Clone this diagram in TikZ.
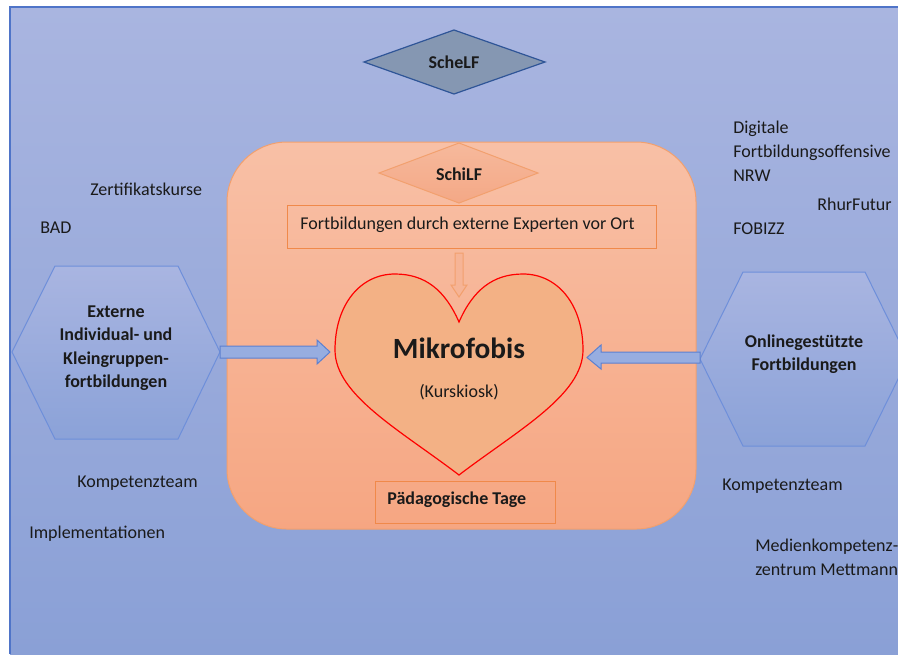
\documentclass[tikz,border=0pt]{standalone}
\usepackage{fontspec}
\setmainfont{Carlito}
\definecolor{bgtop}{HTML}{A9B5E0}
\definecolor{bgbot}{HTML}{8AA0D6}
\definecolor{bgline}{HTML}{4F74C8}
\definecolor{schefill}{HTML}{8597B2}
\definecolor{scheline}{HTML}{2F5597}
\definecolor{boxtop}{HTML}{F8C0A6}
\definecolor{boxbot}{HTML}{F6A682}
\definecolor{boxline}{HTML}{F2A06E}
\definecolor{dmtop}{HTML}{F6B99C}
\definecolor{dmbot}{HTML}{F4A886}
\definecolor{rectline}{HTML}{F0894A}
\definecolor{heartfill}{HTML}{F3B185}
\definecolor{hextop}{HTML}{A9B5E1}
\definecolor{hexbot}{HTML}{8BA2D8}
\definecolor{hexline}{HTML}{6E8FDA}
\definecolor{arrfill}{HTML}{97ADE0}
\definecolor{arrline}{HTML}{5C80D0}
\definecolor{oarrfill}{HTML}{F6B496}
\definecolor{oarrline}{HTML}{F2A06E}
\definecolor{txt}{HTML}{1A1A1A}
\tikzset{
  lbl/.style={inner sep=0pt, anchor=base west, text=txt, font=\fontsize{13.5}{18}\selectfont},
  blbl/.style={inner sep=0pt, text=txt, font=\fontsize{13.5}{17.6}\selectfont\bfseries, align=center},
  hexshape/.style={top color=hextop, bottom color=hexbot, draw=hexline, line width=0.75pt},
  barrow/.style={fill=arrfill, draw=arrline, line width=0.75pt},
}
\begin{document}
\begin{tikzpicture}[x=0.75pt,y=-0.75pt]
\useasboundingbox (0,0) rectangle (898,654);
\clip (0,0) rectangle (898,654);
\fill[white] (0,0) rectangle (898,654);
% background panel
\shade[top color=bgtop, bottom color=bgbot] (10,7) rectangle (898,654);
\draw[bgline, line width=0.9pt] (10,654) -- (10,7) -- (898,7);

% ScheLF diamond
\draw[fill=schefill, draw=scheline, line width=0.9pt] (364,62) -- (454,30) -- (545,62) -- (454,94) -- cycle;
\node[blbl] (schelf) at (454,62) {ScheLF};

% big rounded box
\draw[top color=boxtop, bottom color=boxbot, draw=boxline, line width=0.75pt, rounded corners=45pt] (227,142) rectangle (696,529);

% SchiLF diamond
\draw[top color=dmtop, bottom color=dmbot, draw=oarrline, line width=0.75pt] (379,173) -- (459,143) -- (538,173) -- (459,203) -- cycle;
\node[blbl] (schilf) at (459,174) {SchiLF};

% Experten rectangle
\draw[draw=rectline, line width=0.75pt] (287,205) rectangle (656,248);
\node[lbl] (experten) at (300,229) {Fortbildungen durch externe Experten vor Ort};

% down arrow
\draw[fill=oarrfill, draw=oarrline, line width=0.75pt] (455,253) -- (463,253) -- (463,285) -- (467,285) -- (459,297) -- (451,285) -- (455,285) -- cycle;

% heart
\draw[fill=heartfill, draw=red, line width=0.9pt]
  (459,322) .. controls (445,290) and (425,274) .. (395,274)
  .. controls (360,274) and (335,305) .. (335,350)
  .. controls (335,395) and (400,430) .. (459,475)
  .. controls (518,430) and (583,395) .. (583,350)
  .. controls (583,305) and (558,274) .. (523,274)
  .. controls (493,274) and (473,290) .. (459,322) -- cycle;
\node[inner sep=0pt, text=txt, font=\fontsize{22}{26}\selectfont\bfseries, anchor=base] (mikro) at (459,358) {Mikrofobis};
\node[inner sep=0pt, text=txt, font=\fontsize{13.5}{18}\selectfont, anchor=base] (kiosk) at (459,397) {(Kurskiosk)};

% Paedagogische Tage
\draw[draw=rectline, line width=0.75pt] (375,481) rectangle (555,523);
\node[lbl, font=\fontsize{13.5}{18}\selectfont\bfseries] (paed) at (387,504) {Pädagogische Tage};

% left hexagon
\draw[hexshape] (12,352) -- (55,266) -- (178,266) -- (220,352) -- (178,439) -- (55,439) -- cycle;
\node[blbl] (extern) at (116,348) {Externe\\Individual- und\\Kleingruppen-\\fortbildungen};

% right hexagon
\draw[hexshape] (700,359) -- (743,272) -- (865,272) -- (908,359) -- (865,446) -- (743,446) -- cycle;
\node[blbl] (online) at (804,354) {Onlinegestützte\\Fortbildungen};

% block arrows
\draw[barrow] (220,346) -- (317,346) -- (317,340) -- (330,352) -- (317,364) -- (317,358) -- (220,358) -- cycle;
\draw[barrow] (700,352) -- (601,352) -- (601,345) -- (587,357.5) -- (601,369) -- (601,363) -- (700,363) -- cycle;

% free labels left
\node[lbl] (zert) at (90,195) {Zertifikatskurse};
\node[lbl] (bad) at (40,233) {BAD};
\node[lbl] (kompl) at (77,487) {Kompetenzteam};
\node[lbl] (impl) at (29,538) {Implementationen};

% free labels right
\node[lbl] (dig1) at (733,133) {Digitale};
\node[lbl] (dig2) at (733,157) {Fortbildungsoffensive};
\node[lbl] (dig3) at (733,181) {NRW};
\node[lbl] (rhur) at (817,210) {RhurFutur};
\node[lbl] (fobizz) at (733,234) {FOBIZZ};
\node[lbl] (kompr) at (722,490) {Kompetenzteam};
\node[lbl] (med1) at (755,551) {Medienkompetenz-};
\node[lbl] (med2) at (755,575) {zentrum Mettmann};
\end{tikzpicture}
\end{document}
